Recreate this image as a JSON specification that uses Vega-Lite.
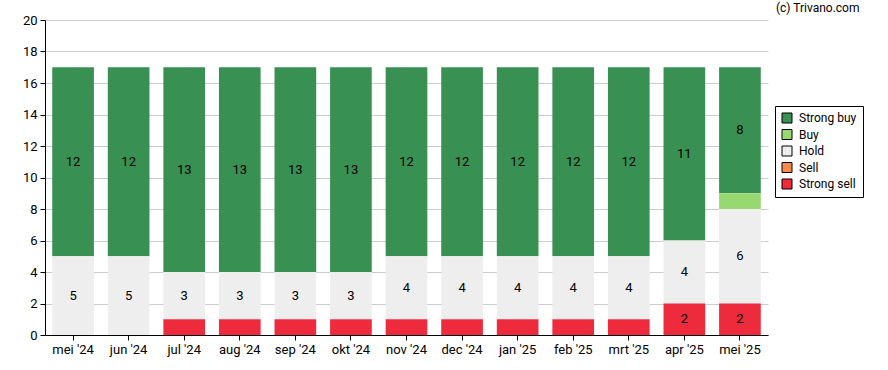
{
  "$schema": "https://vega.github.io/schema/vega-lite/v6.json",
  "width": 723,
  "height": 315,
  "autosize": "none",
  "padding": {"left": 45, "top": 20, "right": 120, "bottom": 35},
  "background": "white",
  "title": {"text": "(c) Trivano.com", "anchor": "end", "dx": -4, "offset": -1, "fontSize": 12, "fontWeight": "normal", "font": "Roboto", "color": "#000"},
  "config": {"view": {"stroke": null}, "font": "Roboto"},
  "data": {"values": [
    {"month": "mei '24", "rating": "Strong buy", "value": 12},
    {"month": "mei '24", "rating": "Hold", "value": 5},
    {"month": "jun '24", "rating": "Strong buy", "value": 12},
    {"month": "jun '24", "rating": "Hold", "value": 5},
    {"month": "jul '24", "rating": "Strong buy", "value": 13},
    {"month": "jul '24", "rating": "Hold", "value": 3},
    {"month": "jul '24", "rating": "Strong sell", "value": 1},
    {"month": "aug '24", "rating": "Strong buy", "value": 13},
    {"month": "aug '24", "rating": "Hold", "value": 3},
    {"month": "aug '24", "rating": "Strong sell", "value": 1},
    {"month": "sep '24", "rating": "Strong buy", "value": 13},
    {"month": "sep '24", "rating": "Hold", "value": 3},
    {"month": "sep '24", "rating": "Strong sell", "value": 1},
    {"month": "okt '24", "rating": "Strong buy", "value": 13},
    {"month": "okt '24", "rating": "Hold", "value": 3},
    {"month": "okt '24", "rating": "Strong sell", "value": 1},
    {"month": "nov '24", "rating": "Strong buy", "value": 12},
    {"month": "nov '24", "rating": "Hold", "value": 4},
    {"month": "nov '24", "rating": "Strong sell", "value": 1},
    {"month": "dec '24", "rating": "Strong buy", "value": 12},
    {"month": "dec '24", "rating": "Hold", "value": 4},
    {"month": "dec '24", "rating": "Strong sell", "value": 1},
    {"month": "jan '25", "rating": "Strong buy", "value": 12},
    {"month": "jan '25", "rating": "Hold", "value": 4},
    {"month": "jan '25", "rating": "Strong sell", "value": 1},
    {"month": "feb '25", "rating": "Strong buy", "value": 12},
    {"month": "feb '25", "rating": "Hold", "value": 4},
    {"month": "feb '25", "rating": "Strong sell", "value": 1},
    {"month": "mrt '25", "rating": "Strong buy", "value": 12},
    {"month": "mrt '25", "rating": "Hold", "value": 4},
    {"month": "mrt '25", "rating": "Strong sell", "value": 1},
    {"month": "apr '25", "rating": "Strong buy", "value": 11},
    {"month": "apr '25", "rating": "Hold", "value": 4},
    {"month": "apr '25", "rating": "Strong sell", "value": 2},
    {"month": "mei '25", "rating": "Strong buy", "value": 8},
    {"month": "mei '25", "rating": "Buy", "value": 1},
    {"month": "mei '25", "rating": "Hold", "value": 6},
    {"month": "mei '25", "rating": "Strong sell", "value": 2}
  ]},
  "encoding": {
    "x": {"field": "month", "type": "nominal", "sort": null,
      "scale": {"paddingInner": 0.25, "paddingOuter": 0.13},
      "axis": {"title": null, "labelAngle": 0, "labelFontSize": 13, "labelColor": "#000", "domainColor": "#000", "tickColor": "#000", "tickSize": 5, "labelPadding": 3, "grid": false}},
    "y": {"field": "value", "type": "quantitative", "aggregate": "sum", "stack": "zero",
      "scale": {"domain": [0, 20]},
      "axis": {"title": null, "values": [0,2,4,6,8,10,12,14,16,18,20], "labelFontSize": 13, "labelColor": "#000", "domainColor": "#000", "tickColor": "#000", "tickSize": 5, "gridColor": "#cccccc", "labelPadding": 3}},
    "order": {"field": "ord", "type": "quantitative"}
  },
  "transform": [
    {"lookup": "rating", "from": {"data": {"values": [
      {"rating": "Strong sell", "ord": 1},
      {"rating": "Sell", "ord": 2},
      {"rating": "Hold", "ord": 3},
      {"rating": "Buy", "ord": 4},
      {"rating": "Strong buy", "ord": 5}
    ]}, "key": "rating", "fields": ["ord"]}}
  ],
  "layer": [
    {
      "mark": {"type": "bar"},
      "encoding": {
        "color": {"field": "rating", "type": "nominal",
          "scale": {"domain": ["Strong buy", "Buy", "Hold", "Sell", "Strong sell"],
                    "range": ["#389153", "#98d870", "#eeeeee", "#f58b4c", "#ee2b3d"]},
          "legend": {"title": null, "orient": "none", "legendX": 730, "legendY": 86,
            "symbolType": "square", "symbolSize": 100, "symbolStrokeColor": "#000", "symbolStrokeWidth": 1,
            "symbolOpacity": 1,
            "labelFontSize": 12, "labelColor": "#000", "rowPadding": 2.5, "padding": 6,
            "strokeColor": "#000", "fillColor": "white", "labelOffset": 6}}
      }
    },
    {
      "mark": {"type": "text", "fontSize": 13, "color": "#000", "baseline": "middle"},
      "encoding": {
        "y": {"field": "value", "type": "quantitative", "aggregate": "sum", "stack": "zero", "bandPosition": 0.5},
        "text": {"condition": {"test": "datum.sum_value > 1", "field": "value", "aggregate": "sum"}, "value": ""}
      }
    }
  ]
}
